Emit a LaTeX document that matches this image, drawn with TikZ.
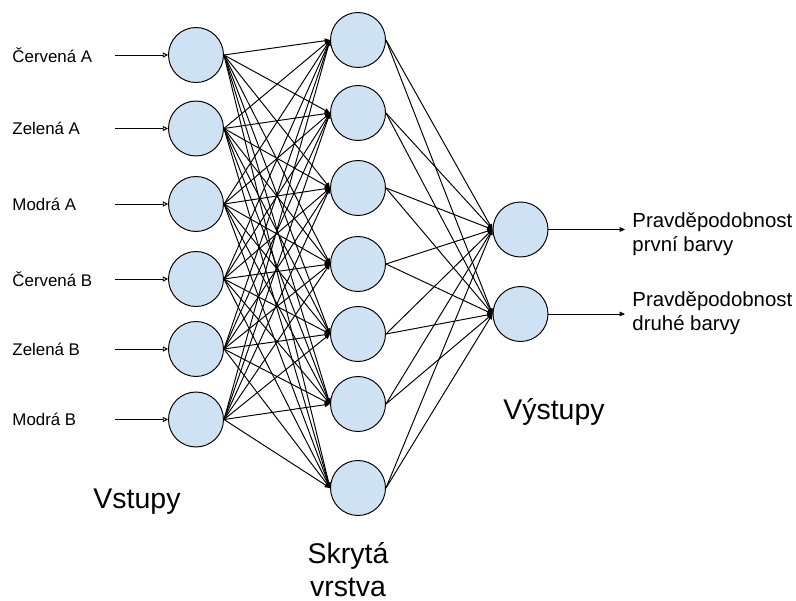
\documentclass[tikz,border=0pt]{standalone}
\usepackage{fontspec}
\setmainfont{Liberation Sans}
\usetikzlibrary{arrows.meta}
\definecolor{neuronblue}{HTML}{CFE2F3}

\begin{document}
\begin{tikzpicture}[x=0.02cm, y=-0.02cm, line width=0.55pt,
    every node/.style={font=\fontsize{9.6}{11}\selectfont},
    neuron/.style={circle,draw,fill=neuronblue,minimum size=1.1cm,inner sep=0pt},
    edge/.style={-{Triangle[length=3pt,width=2.6pt]}},
    feed/.style={-{Triangle[open,length=3pt,width=3pt]}}]
            \useasboundingbox (0,0) rectangle (796,601);
            % input layer
            \foreach \i/\y/\t in {1/55/Červená A, 2/128.5/Zelená A, 3/204/Modrá A,
                                  4/279/Červená B, 5/349/Zelená B, 6/419.5/Modrá B} {
                \node[neuron] (in\i) at (196,\y) {};
                \node[anchor=west,inner sep=0pt] (lab\i) at (12,\y) {\t};
                \coordinate (src\i) at (115,\y);
                \draw[feed] (src\i) -- (in\i.west);
            }
            % hidden layer
            \foreach \i/\y in {1/40, 2/113, 3/188, 4/264, 5/334, 6/404, 7/488} {
                \node[neuron] (hid\i) at (358,\y) {};
            }
            % output layer
            \foreach \i/\y in {1/229.5, 2/314} {
                \node[neuron] (out\i) at (520.5,\y) {};
                \coordinate (dst\i) at (625,\y);
                \draw[edge] (out\i.east) -- (dst\i);
            }
            \node[anchor=west,align=left,inner sep=0pt,font=\fontsize{11.6}{13.6}\selectfont] (res1) at (632,234) {Pravděpodobnost\\první barvy};
            \node[anchor=west,align=left,inner sep=0pt,font=\fontsize{11.6}{13.6}\selectfont] (res2) at (632,313) {Pravděpodobnost\\druhé barvy};
            % full connections
            \foreach \i in {1,...,6} {
                \foreach \j in {1,...,7} {
                    \draw[edge] (in\i.east) -- (hid\j.west);
                }
            }
            \foreach \j in {1,...,7} {
                \foreach \k in {1,2} {
                    \draw[edge] (hid\j.east) -- (out\k.west);
                }
            }
            % layer titles
            \node[font=\fontsize{16.2}{19}\selectfont] (tin) at (137,502) {Vstupy};
            \node[font=\fontsize{16.2}{18.7}\selectfont,align=center] (thid) at (348,570) {Skrytá\\vrstva};
            \node[font=\fontsize{16.2}{19}\selectfont] (tout) at (554,412) {Výstupy};
        \end{tikzpicture}
\end{document}
